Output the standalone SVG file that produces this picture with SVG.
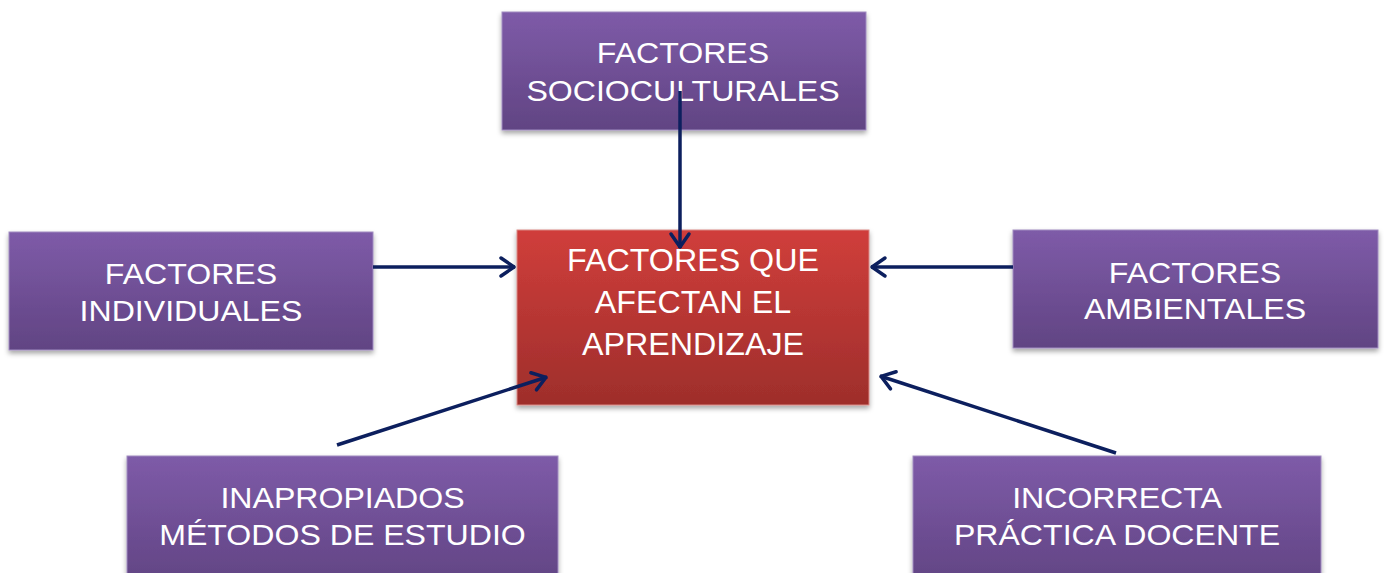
<svg xmlns="http://www.w3.org/2000/svg" width="1384" height="573" viewBox="0 0 1384 573">
<style>
.lbl{font-family:"Liberation Sans",Arial,sans-serif;fill:#ffffff;text-anchor:middle;font-size:30px}
.big{font-size:31px}
.pbox{fill:url(#gp);stroke:#a08cc0;stroke-width:1;filter:url(#sh)}
.rbox{fill:url(#gr);stroke:#d98a86;stroke-width:1;filter:url(#sh)}
.con{stroke:#0c1f5e;stroke-width:3.5;fill:none;marker-end:url(#ah)}
</style>
<defs>
<linearGradient id="gp" x1="0" y1="0" x2="0" y2="1">
<stop offset="0" stop-color="#7e5ba8"/>
<stop offset="1" stop-color="#614483"/>
</linearGradient>
<linearGradient id="gr" x1="0" y1="0" x2="0" y2="1">
<stop offset="0" stop-color="#d03e3b"/>
<stop offset="1" stop-color="#9e2e2b"/>
</linearGradient>
<filter id="sh" x="-10%" y="-10%" width="120%" height="130%">
<feDropShadow dx="0" dy="3" stdDeviation="2.5" flood-color="#000" flood-opacity="0.35"/>
</filter>
<marker id="ah" markerUnits="userSpaceOnUse" markerWidth="20" markerHeight="24" viewBox="-16 -12 20 24" refX="1" refY="0" orient="auto">
<path d="M-13,-9 L0,0 L-13,9" fill="none" stroke="#0c1f5e" stroke-width="3.5" stroke-linecap="round" stroke-linejoin="round"/>
</marker>
</defs>

<g id="n-socio">
<rect class="pbox" x="502" y="12" width="364" height="118"/>
<g transform="translate(683,0) scale(1.07,1)">
<text class="lbl" x="0" y="63">FACTORES</text>
<text class="lbl" x="0" y="101">SOCIOCULTURALES</text>
</g>
</g>

<g id="n-individuales">
<rect class="pbox" x="9" y="232" width="364" height="118"/>
<g transform="translate(191,0) scale(1.07,1)">
<text class="lbl" x="0" y="284">FACTORES</text>
<text class="lbl" x="0" y="321">INDIVIDUALES</text>
</g>
</g>

<g id="n-ambientales">
<rect class="pbox" x="1013" y="230" width="365" height="118"/>
<g transform="translate(1195,0) scale(1.07,1)">
<text class="lbl" x="0" y="283">FACTORES</text>
<text class="lbl" x="0" y="319">AMBIENTALES</text>
</g>
</g>

<g id="n-metodos">
<rect class="pbox" x="127" y="456" width="431" height="130"/>
<g transform="translate(342.5,0) scale(1.07,1)">
<text class="lbl" x="0" y="508">INAPROPIADOS</text>
<text class="lbl" x="0" y="545">MÉTODOS DE ESTUDIO</text>
</g>
</g>

<g id="n-practica">
<rect class="pbox" x="913" y="456" width="408" height="130"/>
<g transform="translate(1117,0) scale(1.07,1)">
<text class="lbl" x="0" y="508">INCORRECTA</text>
<text class="lbl" x="0" y="545">PRÁCTICA DOCENTE</text>
</g>
</g>

<g id="n-centro">
<rect class="rbox" x="517" y="230" width="352" height="175"/>
<g transform="translate(693,0) scale(1.04,1)">
<text class="lbl big" x="0" y="271">FACTORES QUE</text>
<text class="lbl big" x="0" y="313">AFECTAN EL</text>
<text class="lbl big" x="0" y="355">APRENDIZAJE</text>
</g>
</g>

<g id="connectors">
<line class="con" x1="680" y1="91" x2="680" y2="248"/>
<line class="con" x1="373" y1="267" x2="515" y2="267"/>
<line class="con" x1="1013" y1="267" x2="871" y2="267"/>
<line class="con" x1="337" y1="445" x2="547" y2="377"/>
<line class="con" x1="1116" y1="453" x2="880" y2="376"/>
</g>
</svg>
